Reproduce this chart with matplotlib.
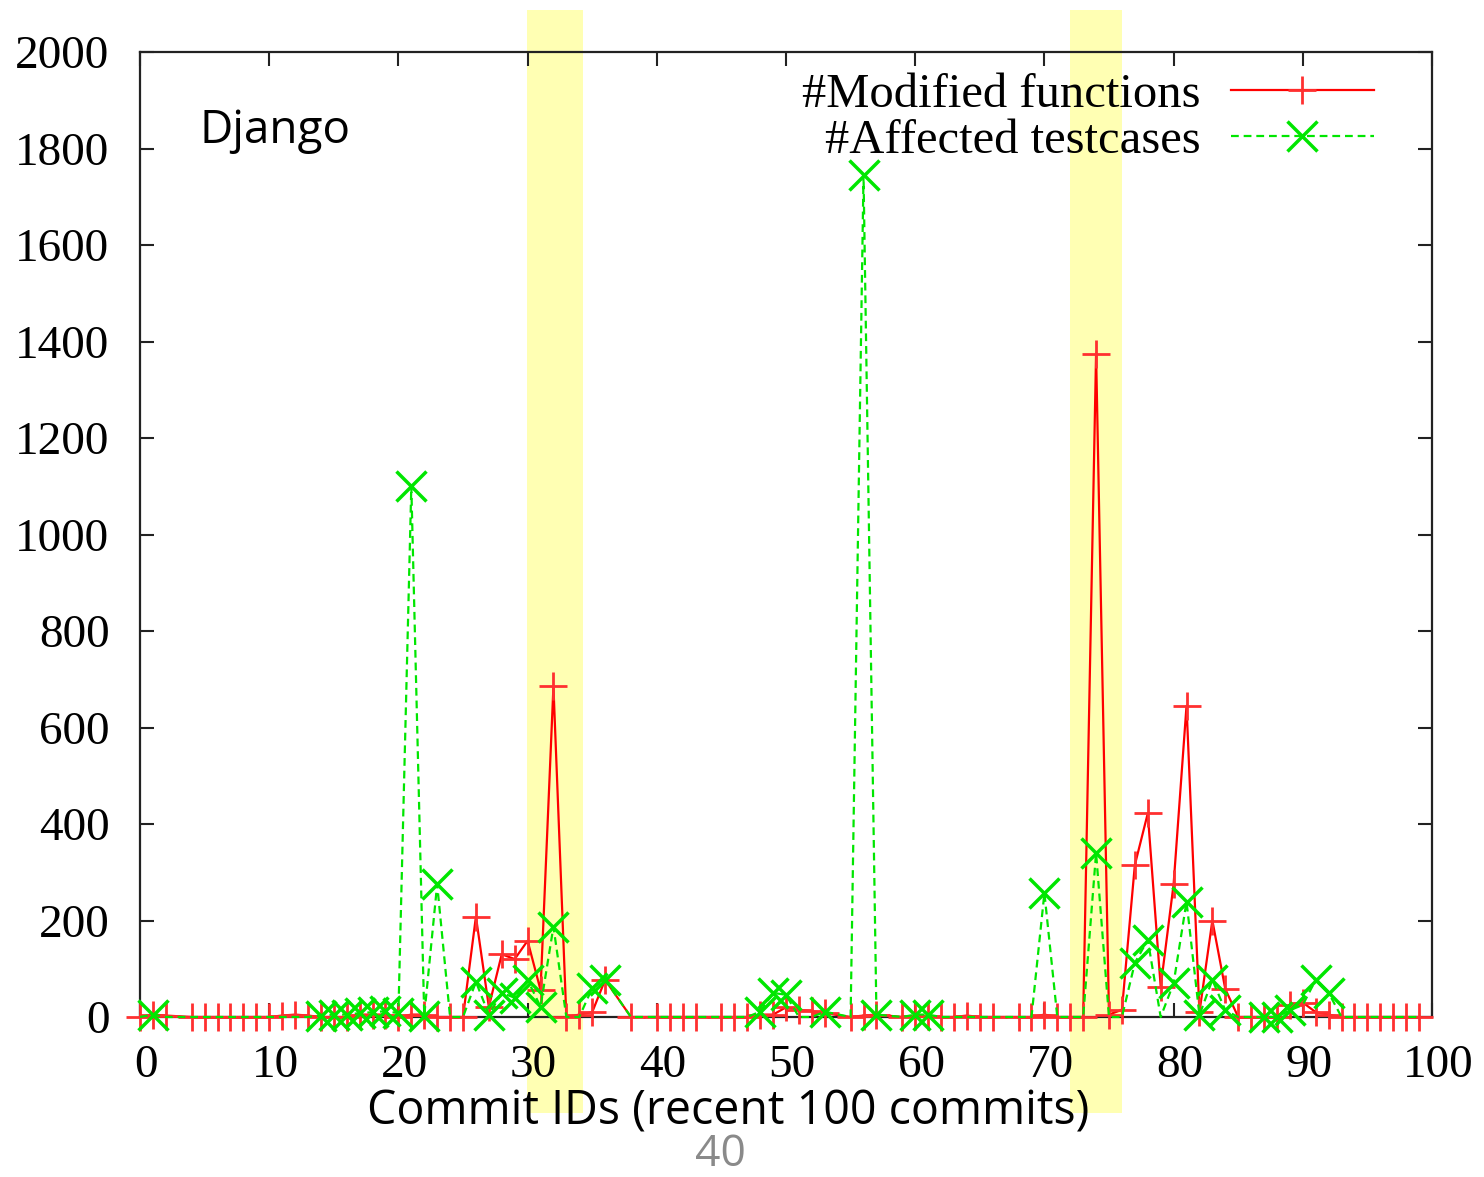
import matplotlib
matplotlib.use('Agg')
import matplotlib.pyplot as plt
from matplotlib.patches import Rectangle
from matplotlib.transforms import blended_transform_factory, ScaledTranslation

# ---- data ----
commits = [0, 1, 2, 4, 5, 6, 7, 8, 9, 10, 11, 12, 13, 14, 15, 16, 17, 18, 19, 20,
           21, 22, 23, 24, 25, 26, 27, 28, 29, 30, 31, 32, 33, 34, 35, 36, 38, 40,
           41, 42, 43, 45, 46, 47, 48, 49, 50, 51, 52, 53, 55, 56, 57, 59, 60, 61,
           62, 63, 64, 65, 66, 68, 69, 70, 71, 72, 73, 74, 75, 76, 77, 78, 79, 80,
           81, 82, 83, 84, 85, 86, 87, 88, 89, 90, 91, 92, 93, 94, 95, 96, 97, 98, 99]

modified_functions = [0, 5, 3, 0, 0, 0, 0, 0, 0, 0, 3, 5, 3, 0, 0, 0, 5, 5, 5, 0,
                      5, 5, 0, 0, 0, 208, 21, 130, 120, 158, 56, 685, 0, 5, 10, 77, 0, 0,
                      0, 0, 0, 0, 0, 0, 5, 5, 20, 15, 12, 8, 0, 3, 5, 0, 2, 2,
                      0, 0, 3, 0, 0, 0, 0, 5, 0, 0, 0, 1375, 5, 15, 315, 422, 63, 275,
                      645, 10, 200, 58, 0, 0, 0, 0, 25, 30, 10, 5, 0, 0, 0, 0, 0, 0, 0]

affected_testcases = [0, 5, 0, 0, 0, 0, 0, 0, 0, 0, 0, 0, 0, 3, 5, 5, 8, 10, 12, 8,
                      1100, 3, 275, 0, 0, 73, 5, 50, 40, 77, 21, 187, 0, 0, 60, 77, 0, 0,
                      0, 0, 0, 0, 0, 0, 11, 50, 46, 0, 0, 11, 0, 1745, 5, 0, 5, 5,
                      0, 0, 0, 0, 0, 0, 0, 257, 0, 0, 0, 340, 0, 0, 112, 160, 0, 70,
                      239, 4, 77, 14, 0, 0, 0, 0, 14, 25, 77, 50, 0, 0, 0, 0, 0, 0, 0]

# commits where the testcase marker is drawn
affected_marked = [1, 14, 15, 16, 17, 18, 19, 20, 21, 22, 23, 26, 27, 28, 29, 30, 31, 32,
                   35, 36, 48, 49, 50, 53, 56, 57, 60, 61, 70, 74, 77, 78, 80, 81, 82,
                   83, 84, 87, 88, 89, 91, 92]

x_ticks = [0, 10, 20, 30, 40, 50, 60, 70, 80, 90, 100]
y_ticks = [0, 200, 400, 600, 800, 1000, 1200, 1400, 1600, 1800, 2000]
highlight_spans = [(29.95, 34.3), (72.0, 76.0)]

# ---- figure ----
W, H = 1484, 1177
fig = plt.figure(figsize=(W / 100, H / 100), dpi=100)
ax = fig.add_axes([140 / W, 1 - 1017 / H, (1432 - 140) / W, (1017 - 52) / H])
ax.patch.set_alpha(0)

serif = ['Liberation Serif', 'DejaVu Serif']
sans = ['Open Sans', 'DejaVu Sans']

ax.set_xlim(0, 100)
ax.set_ylim(0, 2000)

# highlight bands (behind everything)
trans = blended_transform_factory(ax.transData, fig.transFigure)
for x0, x1 in highlight_spans:
    r = Rectangle((x0, 1 - 1113 / H), x1 - x0, (1113 - 10) / H, transform=trans,
                  facecolor='#ffffb3', edgecolor='none', zorder=0.2, clip_on=False)
    ax.add_artist(r)

mark_idx = [commits.index(c) for c in affected_marked]

ax.plot(commits, modified_functions, color='#ff0000', lw=1.6, marker='+',
        markersize=20, markeredgewidth=2.0, markeredgecolor='#ff3030',
        clip_on=False, zorder=3, label='#Modified functions')
ax.plot(commits, affected_testcases, color='#00e600', lw=1.6, ls=(0, (3.5, 2.2)),
        marker='x', markersize=22, markeredgewidth=2.5, markevery=mark_idx,
        clip_on=False, zorder=4, label='#Affected testcases')

for s in ax.spines.values():
    s.set_linewidth(1.6)
    s.set_color('#222222')
    s.set_zorder(2.5)

ax.set_xticks(x_ticks)
ax.set_yticks(y_ticks)
ax.tick_params(direction='in', length=10, width=1.5, top=True, right=True,
               color='#222222', labelsize=34)
ax.tick_params(axis='y', pad=22)
ax.tick_params(axis='x', pad=20)
shift = ScaledTranslation(6 / 100, 0, fig.dpi_scale_trans)
for lbl in ax.get_xticklabels():
    lbl.set_fontfamily(serif)
    lbl.set_transform(lbl.get_transform() + shift)
for lbl in ax.get_yticklabels():
    lbl.set_fontfamily(serif)

leg = ax.legend(loc='upper right', bbox_to_anchor=(1374 / W, 1 - 73 / H),
                bbox_transform=fig.transFigure, frameon=False, markerfirst=False,
                handlelength=2.95, handletextpad=0.62, labelspacing=0.05,
                borderpad=0, borderaxespad=0, numpoints=1,
                prop={'family': serif, 'size': 35})

fig.text(200 / W, 1 - 131 / H, 'Django', fontfamily=sans, fontsize=33,
         va='center', ha='left')
fig.text(728 / W, 1 - 1112 / H, 'Commit IDs (recent 100 commits)', fontfamily=sans,
         fontsize=33.5, va='center', ha='center')
fig.text(720 / W, 1 - 1155 / H, '40', fontfamily=sans, fontsize=32,
         va='center', ha='center', color='#8a8a8a')

fig.savefig('out.png', dpi=100)
